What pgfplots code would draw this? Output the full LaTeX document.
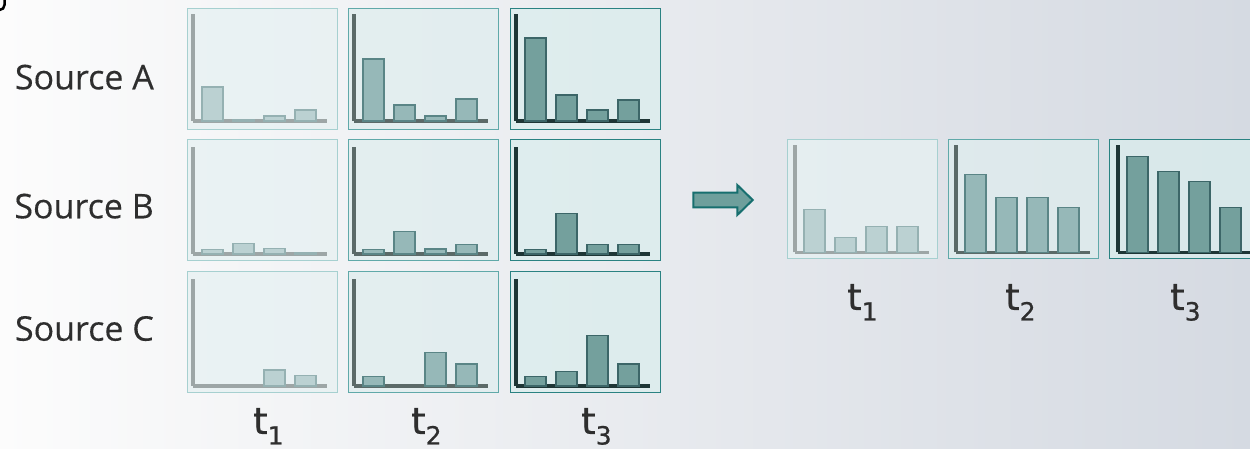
\documentclass[border=0pt]{standalone}
\usepackage{pgfplots}
\pgfplotsset{compat=1.18}
\usepackage{fontspec}
\setmainfont{Open Sans}
\newfontfamily\tfont[FakeBold=0.8]{DejaVu Sans}
\newfontfamily\sfont[FakeBold=0.3]{Open Sans}

\definecolor{txt}{HTML}{2E2E2E}
\definecolor{bf1}{HTML}{BBD1D2}
\definecolor{be1}{HTML}{95B1B2}
\definecolor{ax1}{HTML}{9DA6A6}
\definecolor{fb1}{HTML}{A6D0D0}
\definecolor{ff1}{HTML}{E6F1F2}
\definecolor{bf2}{HTML}{96B8B8}
\definecolor{be2}{HTML}{5A8586}
\definecolor{ax2}{HTML}{5B6A68}
\definecolor{fb2}{HTML}{60A9A9}
\definecolor{ff2}{HTML}{DFEDEE}
\definecolor{bf3}{HTML}{74A09D}
\definecolor{be3}{HTML}{3C6668}
\definecolor{ax3}{HTML}{1E3636}
\definecolor{fb3}{HTML}{2A8282}
\definecolor{ff3}{HTML}{DAEDED}
\definecolor{arrfill}{HTML}{6E9F9C}
\definecolor{arredge}{HTML}{176F6F}

\pgfplotsset{
  miniax/.style={scale only axis, width=134pt, height=107pt,
    xmin=0, xmax=134, ymin=0, ymax=107, axis lines=left,
    xtick=\empty, ytick=\empty, clip=false, anchor=south west},
  lvl1/.style={miniax, axis line style={-, line width=3.5pt, color=ax1, line cap=butt}},
  lvl2/.style={miniax, axis line style={-, line width=3.5pt, color=ax2, line cap=butt}},
  lvl3/.style={miniax, axis line style={-, line width=3.5pt, color=ax3, line cap=butt}},
  bar1/.style={ybar, bar width=21, fill=bf1, draw=be1, line width=1.3pt},
  bar2/.style={ybar, bar width=21, fill=bf2, draw=be2, line width=1.3pt},
  bar3/.style={ybar, bar width=21, fill=bf3, draw=be3, line width=1.3pt},
}

% #1 frame left (px), #2 frame top (px), #3 level, #4 coordinates, #5 axis offset x, #6 baseline offset from top, #7 frame height
\newcommand{\mini}[7]{%
  \filldraw[draw=fb#3, fill=ff#3, fill opacity=0.75, line width=1pt]
     (#1,{449-#2}) rectangle ({#1+150},{449-#2-#7});
  \begin{axis}[lvl#3, at={({(#1+#5)*1pt},{(449-#2-#6)*1pt})}]
    \addplot[bar#3] coordinates {#4};
  \end{axis}%
}
\newcommand{\tlab}[1]{{\tfont\fontsize{37}{44}\selectfont t\raisebox{-10.5pt}{\fontsize{25}{30}\selectfont #1}}}

\begin{document}
\begin{tikzpicture}[x=1pt,y=1pt]
\useasboundingbox (0,0) rectangle (1250,449);
\clip (0,0) rectangle (1250,449);
\shade[left color=white!60!gray!6, middle color=gray!8!blue!3!white, right color={rgb,255:red,213;green,218;blue,226}]
  (0,0) rectangle (1250,449);
\draw[line width=2.5pt, black] (4.5,449) -- (4.5,444) arc[start angle=0,end angle=-90,radius=5];

% Row A
\mini{187}{9}{1}{(19.5,34) (50.5,1) (81.5,5) (112.5,11)}{6}{112}{121}
\mini{348}{9}{2}{(19.5,62) (50.5,16) (81.5,5) (112.5,22)}{6}{112}{121}
\mini{510}{9}{3}{(19.5,83) (50.5,26) (81.5,11) (112.5,21)}{6}{112}{121}
% Row B
\mini{187}{140}{1}{(19.5,4.7) (50.5,10.7) (81.5,5.7) (112.5,1)}{6}{114}{121}
\mini{348}{140}{2}{(19.5,4.7) (50.5,22.3) (81.5,5) (112.5,9.3)}{6}{114}{121}
\mini{510}{140}{3}{(19.5,4.7) (50.5,40.7) (81.5,9.7) (112.5,9.7)}{6}{114}{121}
% Row C
\mini{187}{272}{1}{(81.5,16) (112.5,10.3)}{6}{114}{121}
\mini{348}{272}{2}{(19.5,9.7) (81.5,33.3) (112.5,22)}{6}{114}{121}
\mini{510}{272}{3}{(19.5,9.7) (50.5,14.7) (81.5,50.7) (112.5,22)}{6}{114}{121}
% Right
\mini{787}{140}{1}{(19.5,43.3) (50.5,14.7) (81.5,26) (112.5,26)}{8}{112.5}{119}
\mini{948}{140}{2}{(19.5,78) (50.5,55) (81.5,55) (112.5,45)}{8}{112.5}{119}
\mini{1109}{140}{3}{(19.5,96.3) (50.5,81) (81.5,70.7) (112.5,44.7)}{9}{112.5}{119}

% Arrow
\filldraw[line width=2pt, draw=arredge, fill=arrfill, line join=miter]
  (693.3,{449-192.7}) -- (737.3,{449-192.7}) -- (737.3,{449-185}) -- (752.7,{449-200})
  -- (737.3,{449-215}) -- (737.3,{449-207.3}) -- (693.3,{449-207.3}) -- cycle;

% Source labels
\node[anchor=base east, inner sep=0, text=txt, font=\sfont\fontsize{34}{40}\selectfont] at (154,{449-89.3}) {Source A};
\node[anchor=base east, inner sep=0, text=txt, font=\sfont\fontsize{34}{40}\selectfont] at (154,{449-218.3}) {Source B};
\node[anchor=base east, inner sep=0, text=txt, font=\sfont\fontsize{34}{40}\selectfont] at (154,{449-340.7}) {Source C};

% t labels (left grid)
\node[anchor=base west, inner sep=0, text=txt] at (253,{449-434}) {\tlab{1}};
\node[anchor=base west, inner sep=0, text=txt] at (411,{449-434}) {\tlab{2}};
\node[anchor=base west, inner sep=0, text=txt] at (581,{449-434}) {\tlab{3}};
% t labels (right)
\node[anchor=base west, inner sep=0, text=txt] at (847,{449-310}) {\tlab{1}};
\node[anchor=base west, inner sep=0, text=txt] at (1005,{449-310}) {\tlab{2}};
\node[anchor=base west, inner sep=0, text=txt] at (1170,{449-310}) {\tlab{3}};
\end{tikzpicture}
\end{document}
